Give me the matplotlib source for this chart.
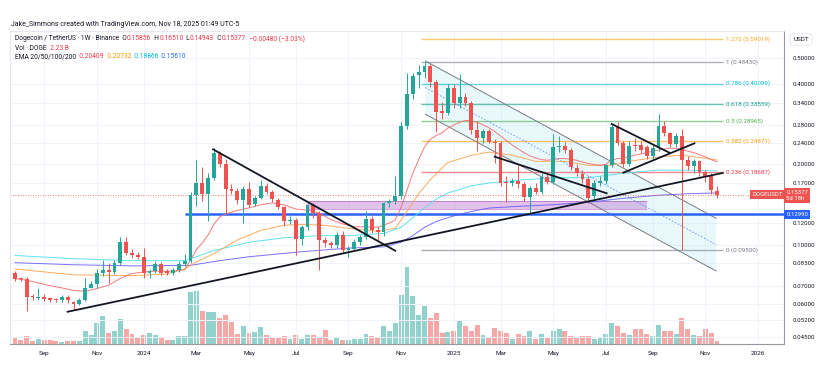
import numpy as np
import pandas as pd
import matplotlib
matplotlib.use("Agg")
import matplotlib.pyplot as plt
import matplotlib.dates as mdates
import matplotlib.transforms as mtransforms
from matplotlib.patches import Polygon

plt.rcParams['font.family'] = ['Roboto', 'DejaVu Sans']

# weekly DOGE/USDT candles, first week 2023-07-31
start = pd.Timestamp('2023-07-31')
opens = [0.0780, 0.0748, 0.0742, 0.0640, 0.0628, 0.0637, 0.0625, 0.0622, 0.0618, 0.0635,
         0.0610, 0.0598, 0.0620, 0.0690, 0.0710, 0.0780, 0.0805, 0.0790, 0.0855, 0.1025,
         0.0930, 0.0915, 0.0895, 0.0780, 0.0795, 0.0845, 0.0795, 0.0780, 0.0800, 0.0845,
         0.0865, 0.1530, 0.1700, 0.1540, 0.1780, 0.2200, 0.2000, 0.1620, 0.1590, 0.1470,
         0.1610, 0.1415, 0.1500, 0.1660, 0.1580, 0.1468, 0.1380, 0.1220, 0.1235, 0.1045,
         0.1160, 0.1410, 0.1310, 0.1040, 0.1010, 0.1000, 0.1090, 0.0955, 0.0965, 0.1025,
         0.1065, 0.1245, 0.1130, 0.1110, 0.1430, 0.1455, 0.1520, 0.2780, 0.3680, 0.4320,
         0.4420, 0.4660, 0.4080, 0.3150, 0.3120, 0.3850, 0.3390, 0.3580, 0.3390, 0.2690,
         0.2500, 0.2670, 0.2430, 0.2400, 0.1720, 0.1700, 0.1730, 0.1680, 0.1510, 0.1630,
         0.1570, 0.1790, 0.1720, 0.2320, 0.2330, 0.2260, 0.1930, 0.1840, 0.1760, 0.1520,
         0.1700, 0.1730, 0.1980, 0.2750, 0.2410, 0.2010, 0.2350, 0.2360, 0.2310, 0.2150,
         0.2290, 0.2780, 0.2610, 0.2380, 0.2540, 0.2070, 0.1970, 0.2060, 0.1870, 0.1810,
         0.15856]
highs = [0.0795, 0.0755, 0.0755, 0.0650, 0.0687, 0.0650, 0.0635, 0.0630, 0.0645, 0.0645,
         0.0615, 0.0628, 0.0747, 0.0730, 0.0812, 0.0875, 0.0850, 0.0875, 0.1070, 0.1070,
         0.0960, 0.0940, 0.0970, 0.0810, 0.0870, 0.0860, 0.0810, 0.0820, 0.0870, 0.0925,
         0.1580, 0.2070, 0.1950, 0.1850, 0.2290, 0.2250, 0.2100, 0.1680, 0.1630, 0.1650,
         0.1710, 0.1520, 0.1750, 0.1700, 0.1600, 0.1500, 0.1400, 0.1280, 0.1260, 0.1180,
         0.1420, 0.1430, 0.1330, 0.1070, 0.1030, 0.1110, 0.1120, 0.0990, 0.1050, 0.1090,
         0.1330, 0.1280, 0.1160, 0.1440, 0.1480, 0.1800, 0.2890, 0.4400, 0.4400, 0.4700,
         0.4843, 0.4750, 0.4150, 0.3430, 0.4000, 0.4000, 0.4340, 0.3700, 0.3450, 0.2890,
         0.2720, 0.2700, 0.2480, 0.2450, 0.1800, 0.1780, 0.1980, 0.1720, 0.1660, 0.1700,
         0.1850, 0.1830, 0.2590, 0.2550, 0.2420, 0.2300, 0.2000, 0.1900, 0.1800, 0.1750,
         0.1800, 0.2000, 0.2850, 0.2880, 0.2450, 0.2450, 0.2500, 0.2450, 0.2350, 0.2350,
         0.3080, 0.2900, 0.2650, 0.2620, 0.2700, 0.2150, 0.2100, 0.2080, 0.1900, 0.1850,
         0.16510]
lows = [0.0728, 0.0730, 0.0562, 0.0620, 0.0620, 0.0615, 0.0610, 0.0608, 0.0610, 0.0605,
        0.0570, 0.0592, 0.0612, 0.0685, 0.0690, 0.0765, 0.0720, 0.0775, 0.0840, 0.0910,
        0.0890, 0.0880, 0.0750, 0.0750, 0.0785, 0.0770, 0.0770, 0.0770, 0.0790, 0.0830,
        0.0850, 0.1400, 0.1450, 0.1230, 0.1750, 0.1950, 0.1300, 0.1550, 0.1420, 0.1200,
        0.1380, 0.1390, 0.1480, 0.1550, 0.1440, 0.1360, 0.1170, 0.1190, 0.0914, 0.1000,
        0.1130, 0.1260, 0.0806, 0.0980, 0.0970, 0.0970, 0.0930, 0.0900, 0.0950, 0.1000,
        0.1050, 0.1100, 0.1040, 0.1080, 0.1380, 0.1420, 0.1480, 0.2700, 0.3500, 0.3860,
        0.4200, 0.3900, 0.2640, 0.2950, 0.3050, 0.3250, 0.3250, 0.3300, 0.2600, 0.2250,
        0.2400, 0.2400, 0.2020, 0.1650, 0.1440, 0.1650, 0.1630, 0.1450, 0.1305, 0.1550,
        0.1550, 0.1680, 0.1680, 0.2220, 0.2200, 0.1900, 0.1800, 0.1700, 0.1435, 0.1480,
        0.1650, 0.1680, 0.1950, 0.2350, 0.1950, 0.1970, 0.2250, 0.2200, 0.2100, 0.2080,
        0.2250, 0.2550, 0.2320, 0.2320, 0.0950, 0.1900, 0.1850, 0.1800, 0.1720, 0.1550,
        0.14943]
closes = [0.0743, 0.0742, 0.0638, 0.0635, 0.0637, 0.0625, 0.0622, 0.0618, 0.0635, 0.0618,
          0.0598, 0.0620, 0.0690, 0.0710, 0.0780, 0.0800, 0.0790, 0.0855, 0.1025, 0.0930,
          0.0915, 0.0900, 0.0780, 0.0795, 0.0845, 0.0785, 0.0780, 0.0800, 0.0845, 0.0865,
          0.1530, 0.1700, 0.1540, 0.1780, 0.2200, 0.2000, 0.1620, 0.1590, 0.1470, 0.1610,
          0.1410, 0.1500, 0.1660, 0.1580, 0.1480, 0.1380, 0.1220, 0.1235, 0.1045, 0.1160,
          0.1410, 0.1310, 0.1040, 0.1010, 0.1000, 0.1090, 0.0955, 0.0965, 0.1025, 0.1065,
          0.1245, 0.1130, 0.1110, 0.1430, 0.1455, 0.1520, 0.2780, 0.3680, 0.4280, 0.4420,
          0.4660, 0.4080, 0.3150, 0.3120, 0.3850, 0.3390, 0.3580, 0.3390, 0.2690, 0.2500,
          0.2670, 0.2430, 0.2400, 0.1700, 0.1700, 0.1730, 0.1680, 0.1510, 0.1630, 0.1580,
          0.1790, 0.1720, 0.2320, 0.2330, 0.2260, 0.1960, 0.1860, 0.1760, 0.1500, 0.1700,
          0.1730, 0.1980, 0.2750, 0.2410, 0.2010, 0.2340, 0.2330, 0.2260, 0.2150, 0.2290,
          0.2780, 0.2610, 0.2380, 0.2540, 0.2070, 0.1970, 0.2060, 0.1870, 0.1810, 0.1600,
          0.15377]
# volume in billions of DOGE
volumes = [5.6, 3.6, 7.0, 2.8, 4.2, 3.4, 3.4, 2.2, 2.0, 2.2, 2.2, 2.8, 11.2, 7.8, 17.4,
           23.5, 9.2, 10.6, 20.7, 12.9, 8.7, 5.0, 7.8, 9.2, 7.3, 5.3, 3.6, 3.1, 6.7, 6.7,
           43.4, 44.2, 27.2, 26.9, 26.6, 21.3, 24.4, 18.2, 8.1, 15.1, 9.0, 10.4, 14.0, 7.3,
           5.9, 5.9, 6.4, 4.5, 7.6, 4.5, 7.8, 7.3, 5.6, 11.8, 3.6, 5.0, 3.6, 3.6, 4.2, 3.9,
           8.4, 7.0, 5.0, 14.8, 10.6, 17.9, 40.6, 64.5, 40.0, 23.8, 31.6, 21.6, 25.8, 9.0,
           10.4, 10.9, 19.6, 14.6, 10.9, 16.0, 7.3, 5.3, 13.2, 10.6, 9.5, 4.2, 8.4, 7.0,
           10.9, 3.9, 8.7, 5.0, 10.9, 12.3, 10.6, 6.7, 5.3, 6.7, 6.4, 4.5, 5.3, 8.4, 17.6,
           14.6, 9.5, 7.8, 12.6, 12.9, 8.7, 7.0, 16.0, 11.2, 11.2, 8.4, 21.6, 12.6, 7.8, 6.7,
           12.3, 9.0, 2.23]

# EMA readings (week offset from start, value)
ema20_wk = [0, 2, 4, 6, 8, 10, 12, 14, 16, 18, 20, 22, 24, 26, 28, 29, 30, 31, 32, 33,
            34, 35, 36, 38, 40, 42, 44, 46, 48, 50, 52, 54, 56, 58, 60, 62, 64, 65, 66, 67,
            68, 69, 70, 71, 72, 73, 74, 75, 76, 77, 78, 79, 80, 81, 82, 83, 84, 85, 86, 87,
            88, 89, 90, 91, 92, 93, 94, 96, 98, 100, 101, 102, 103, 104, 106, 108, 110, 112,
            113, 114, 115, 116, 117, 118, 119, 120]
ema20 = [0.0745, 0.0735, 0.0718, 0.0701, 0.0688, 0.0673, 0.0668, 0.0684, 0.0704, 0.0747,
         0.0779, 0.0789, 0.0795, 0.0793, 0.0798, 0.0805, 0.0874, 0.0957, 0.1013, 0.1086,
         0.1192, 0.1269, 0.1302, 0.1343, 0.1372, 0.1410, 0.1432, 0.1407, 0.1358, 0.1346,
         0.1314, 0.1240, 0.1195, 0.1165, 0.1165, 0.1160, 0.1205, 0.1235, 0.1380, 0.1600,
         0.1850, 0.2080, 0.2320, 0.2480, 0.2560, 0.2620, 0.2730, 0.2800, 0.2870, 0.2920,
         0.2900, 0.2870, 0.2810, 0.2740, 0.2650, 0.2550, 0.2450, 0.2360, 0.2280, 0.2210,
         0.2150, 0.2110, 0.2080, 0.2070, 0.2080, 0.2100, 0.2100, 0.2070, 0.2010, 0.1980,
         0.2000, 0.2070, 0.2100, 0.2110, 0.2160, 0.2210, 0.2260, 0.2300, 0.2290, 0.2270,
         0.2240, 0.2210, 0.2170, 0.2130, 0.2080, 0.20409]
ema50_wk = [0, 10, 20, 26, 29, 31, 34, 38, 42, 46, 49, 53, 57, 62, 65, 67, 69, 71, 74, 78,
            81, 85, 89, 94, 98, 102, 105, 110, 114, 117, 120]
ema50 = [0.0810, 0.0770, 0.0765, 0.0775, 0.0810, 0.0860, 0.0925, 0.1040, 0.1130, 0.1180,
         0.1190, 0.1180, 0.1150, 0.1120, 0.1150, 0.1330, 0.1550, 0.1750, 0.2030, 0.2160,
         0.2220, 0.2160, 0.2050, 0.2050, 0.1980, 0.1980, 0.2050, 0.2130, 0.2160, 0.2120,
         0.20732]
ema100_wk = [0, 10, 20, 29, 31, 34, 40, 46, 52, 57, 63, 66, 68, 70, 72, 74, 78, 81, 87,
             93, 98, 104, 110, 115, 120]
ema100 = [0.0910, 0.0885, 0.0870, 0.0870, 0.0900, 0.0950, 0.1020, 0.1060, 0.1080, 0.1080,
          0.1100, 0.1160, 0.1260, 0.1370, 0.1480, 0.1560, 0.1660, 0.1700, 0.1750, 0.1780,
          0.1780, 0.1850, 0.1900, 0.1900, 0.18866]
ema200_wk = [0, 10, 20, 30, 35, 40, 49, 57, 63, 66, 68, 70, 72, 75, 78, 81, 86, 92, 98,
             104, 110, 115, 120]
ema200 = [0.0855, 0.0840, 0.0832, 0.0836, 0.0870, 0.0900, 0.0940, 0.0970, 0.0980, 0.1020,
          0.1080, 0.1160, 0.1220, 0.1280, 0.1330, 0.1370, 0.1390, 0.1410, 0.1440, 0.1490,
          0.1530, 0.1550, 0.15610]

# fibonacci retracement
fib_names = ['1.272', '1', '0.786', '0.618', '0.5', '0.382', '0.236', '0']
fib_prices = [0.59019, 0.48430, 0.40099, 0.33559, 0.28965, 0.24371, 0.18687, 0.09500]
fib_colors = ['#f7a21b', '#787b86', '#00bcd4', '#089981', '#4caf50', '#ff9800', '#f23645', '#787b86']
fib_span = ['2024-11-28', '2025-11-24']

# drawings: descending channel and trend lines (date, price)
chan_dates = ['2024-12-03', '2025-11-16']
chan_upper = [0.487, 0.1254]
chan_lower = [0.3076, 0.0796]
trend_lines = [
    (['2023-10-02', '2025-11-24'], [0.0560, 0.1855]),
    (['2024-03-24', '2024-10-28'], [0.2274, 0.0948]),
    (['2025-02-24', '2025-07-08'], [0.2134, 0.1556]),
    (['2025-07-14', '2025-09-21'], [0.2829, 0.2209]),
    (['2025-07-28', '2025-10-21'], [0.1860, 0.2395]),
]
zone_dates = ['2024-07-14', '2025-08-25']
zone_prices = [0.1362, 0.1452]
support_start = '2024-02-19'
support_price = 0.12990
last_price = 0.15377

price_ticks = [0.5, 0.4, 0.34, 0.28, 0.24, 0.2, 0.17, 0.12, 0.1, 0.085, 0.07, 0.06, 0.052, 0.045]
month_ticks = ['2023-09-04', '2023-11-06', '2024-01-01', '2024-03-04', '2024-05-06', '2024-07-01',
               '2024-09-02', '2024-11-04', '2025-01-06', '2025-03-03', '2025-05-05', '2025-07-07',
               '2025-09-01', '2025-11-03', '2026-01-05']
month_labels = ['Sep', 'Nov', '2024', 'Mar', 'May', 'Jul', 'Sep', 'Nov', '2025', 'Mar', 'May',
                'Jul', 'Sep', 'Nov', '2026']

UP = '#26a69a'
DOWN = '#ef5350'
TXT = '#131722'

W, H = 836, 368
fig = plt.figure(figsize=(W / 100, H / 100), dpi=100)
fig.patch.set_facecolor('white')
ax = fig.add_axes([10 / W, 24 / H, 774 / W, 313 / H])
axv = ax.twinx()
ax.set_zorder(axv.get_zorder() + 1)
ax.patch.set_visible(False)

dates = pd.date_range(start, periods=len(closes), freq='7D')
x = mdates.date2num(dates)
o = np.array(opens); h = np.array(highs); l = np.array(lows); c = np.array(closes)
up = c >= o
cols = np.where(up, UP, DOWN)

def wk(weeks):
    return mdates.date2num(start + pd.to_timedelta(np.array(weeks) * 7, unit='D'))

def dn(s):
    return mdates.date2num(pd.to_datetime(s))

# volume
axv.bar(x, volumes, width=5.9, color=cols, alpha=0.5, linewidth=0)
axv.set_ylim(0, 261)
axv.set_yticks([])
for s in axv.spines.values():
    s.set_visible(False)

ax.set_yscale('log')
ax.set_ylim(0.0424, 0.631)
ax.set_xlim(x[0] - 6, x[0] + 7 * 131.45)

# grid
for p in price_ticks:
    ax.axhline(p, color='#f0f3fa', lw=0.7, zorder=0)
for d in month_ticks:
    ax.axvline(dn(d), color='#f0f3fa', lw=0.7, zorder=0)

# channel
cx = [dn(d) for d in chan_dates]
ax.add_patch(Polygon([(cx[0], chan_upper[0]), (cx[1], chan_upper[1]),
                      (cx[1], chan_lower[1]), (cx[0], chan_lower[0])],
                     closed=True, facecolor='#b2ebf2', alpha=0.28, edgecolor='none', zorder=1))
ax.plot(cx, chan_upper, color='#787b86', lw=0.7, zorder=2)
ax.plot(cx, chan_lower, color='#787b86', lw=0.7, zorder=2)
ax.plot(cx, np.sqrt(np.array(chan_upper) * np.array(chan_lower)), color='#2962ff',
        lw=0.6, ls=(0, (2, 2)), alpha=0.7, zorder=2)

# zone and support line
zx = [dn(d) for d in zone_dates]
ax.fill_between(zx, zone_prices[0], zone_prices[1], color='#9c27b0', alpha=0.28, lw=0, zorder=1)
ax.hlines(zone_prices, zx[0], zx[1], color='#9c27b0', lw=0.5, alpha=0.6, zorder=1)
ax.hlines(support_price, dn(support_start), ax.get_xlim()[1], color='#2962ff', lw=1.8, zorder=2)

# fib levels
fx = [dn(d) for d in fib_span]
for name, p, col in zip(fib_names, fib_prices, fib_colors):
    ax.hlines(p, fx[0], fx[1], color=col, lw=1.0, alpha=0.6, zorder=1)
    ax.text(fx[1] + 4, p, f'{name} ({p:.5f})', color=col, fontsize=4.5, va='center', ha='left')

# EMAs
ax.plot(wk(ema200_wk), ema200, color='#5b4dff', lw=0.7, alpha=0.8, zorder=2)
ax.plot(wk(ema100_wk), ema100, color='#4ddfef', lw=0.7, alpha=0.9, zorder=2)
ax.plot(wk(ema50_wk), ema50, color='#ffa24d', lw=0.7, alpha=0.9, zorder=2)
ax.plot(wk(ema20_wk), ema20, color='#f26b6b', lw=0.7, alpha=0.9, zorder=2)

# candles
ax.vlines(x, l, h, colors=cols, lw=0.7, zorder=3)
bottom = np.minimum(o, c)
height = np.maximum(np.abs(c - o), bottom * 0.012)
ax.bar(x, height, bottom=bottom, width=4.6, color=cols, linewidth=0, zorder=4)

# trend lines
for ds, ps in trend_lines:
    ax.plot([dn(d) for d in ds], ps, color=TXT, lw=1.3, zorder=5)

ax.axhline(last_price, color=DOWN, lw=0.6, ls=(0, (1, 2)), zorder=2)

# axes styling
ax.yaxis.tick_right()
ax.set_yticks(price_ticks)
ax.set_yticklabels([f'{p:.5f}' for p in price_ticks])
ax.yaxis.set_minor_locator(matplotlib.ticker.NullLocator())
ax.tick_params(axis='y', labelsize=4.4, length=0, pad=6, colors=TXT)
ax.set_xticks([dn(d) for d in month_ticks])
ax.set_xticklabels(month_labels)
ax.tick_params(axis='x', labelsize=4.6, length=0, pad=5, colors=TXT)
for k in ['left', 'top']:
    ax.spines[k].set_color('#e0e3eb')
    ax.spines[k].set_linewidth(0.6)
for k in ['right', 'bottom']:
    ax.spines[k].set_color('#9598a1')
    ax.spines[k].set_linewidth(0.8)

# price axis labels
bt = mtransforms.blended_transform_factory(ax.transAxes, ax.transData)
ax.text(0.9985, last_price, 'DOGEUSDT', transform=bt, ha='right', va='center', color='white',
        fontsize=4.3, bbox=dict(boxstyle='square,pad=0.35', fc=DOWN, ec='none'), zorder=6)
ax.annotate(f'{last_price:.5f}\n5d 18h', xy=(1.0, last_price), xycoords=bt, xytext=(1.6, 3.4),
            textcoords='offset points', ha='left', va='top', color='white', fontsize=4.3,
            linespacing=1.3, annotation_clip=False,
            bbox=dict(boxstyle='square,pad=0.35', fc=DOWN, ec='none'))
ax.annotate(f'{support_price:.5f}', xy=(1.0, support_price), xycoords=bt, xytext=(1.6, 0),
            textcoords='offset points', ha='left', va='center', color='white', fontsize=4.3,
            annotation_clip=False, bbox=dict(boxstyle='square,pad=0.35', fc='#2962ff', ec='none'))
fig.text(801 / W, 1 - 39.5 / H, 'USDT', ha='center', va='center', fontsize=4.6, color=TXT,
         bbox=dict(boxstyle='round,pad=0.5', fc='white', ec='#e0e3eb', lw=0.6))

# header texts
rend = fig.canvas.get_renderer()

def runs(x0, y0, parts, size):
    xx = x0
    for s, col in parts:
        t = fig.text(xx / W, 1 - y0 / H, s, color=col, fontsize=size, va='center', ha='left')
        xx += t.get_window_extent(rend).width

runs(11, 24, [('Jake_Simmons created with TradingView.com, Nov 18, 2025 01:49 UTC-5', TXT)], 5.0)
runs(15, 39, [('Dogecoin / TetherUS · 1W · Binance', TXT), ('  O', TXT), ('0.15856', '#f23645'),
              ('  H', TXT), ('0.16510', '#f23645'), ('  L', TXT), ('0.14943', '#f23645'),
              ('  C', TXT), ('0.15377', '#f23645'), ('  −0.00480 (−3.03%)', '#f23645')], 4.8)
runs(15, 48, [('Vol · DOGE', TXT), ('  2.23 B', '#f23645')], 4.8)
runs(15, 57, [('EMA 20/50/100/200', TXT), ('  0.20409', '#f23645'), ('  0.20732', '#ff9800'),
              ('  0.18866', '#00bcd4'), ('  0.15610', '#2962ff')], 4.8)

fig.savefig('out.png', dpi=100)
